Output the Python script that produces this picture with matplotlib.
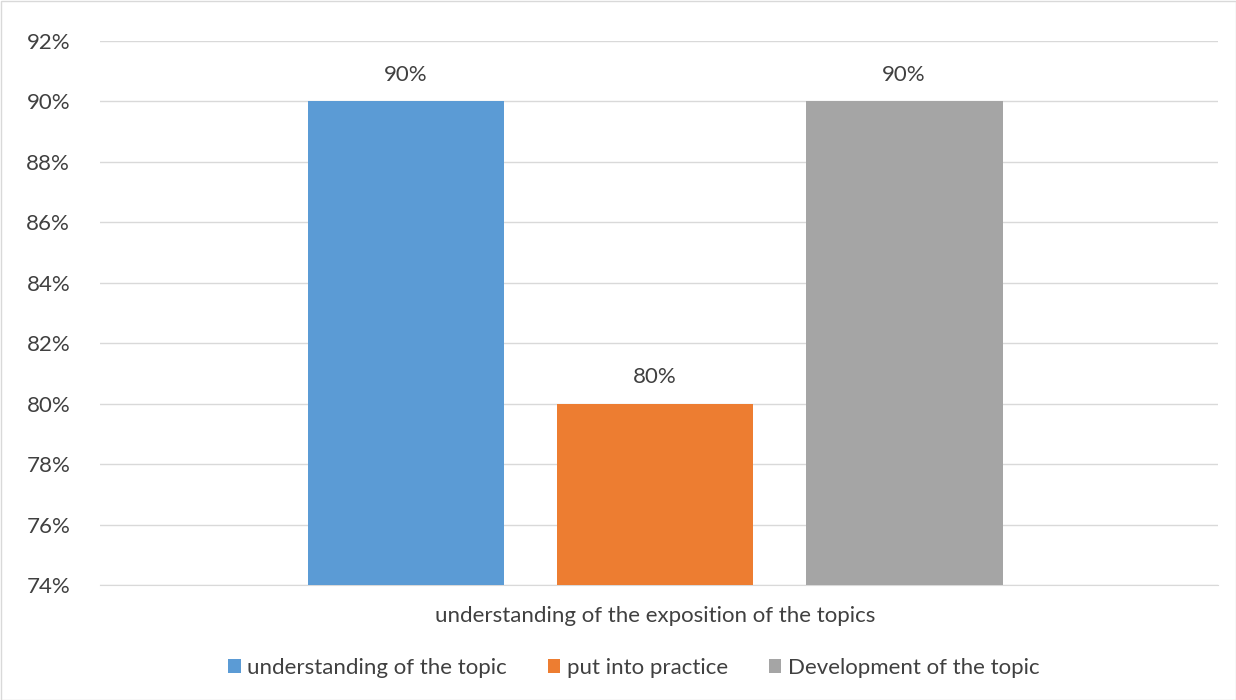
import matplotlib
matplotlib.use('Agg')
import matplotlib.pyplot as plt
from matplotlib.patches import Rectangle

category = 'understanding of the exposition of the topics'
series = ['understanding of the topic', 'put into practice', 'Development of the topic']
values = [0.90, 0.80, 0.90]
colors = ['#5b9bd5', '#ed7d31', '#a5a5a5']
yticks = [0.74, 0.76, 0.78, 0.80, 0.82, 0.84, 0.86, 0.88, 0.90, 0.92]

plt.rcParams['font.family'] = ['Lato', 'DejaVu Sans']
fs = 16
fig = plt.figure(figsize=(12.36, 7), dpi=100)
ax = fig.add_axes([100/1236, 1-585/700, 1118/1236, 544/700])

offsets = [-0.2263, -0.0035, 0.2193]
width = 0.176
for name, v, c, off in zip(series, values, colors, offsets):
    ax.bar(off, v - 0.74, width, bottom=0.74, color=c, label=name, zorder=3)
    ax.text(off, v + 0.0055, '%d%%' % round(v * 100), ha='center', va='bottom',
            fontsize=fs, color='#404040')

ax.set_xlim(-0.5, 0.5)
ax.set_ylim(0.74, 0.92)
ax.set_yticks(yticks)
ax.set_yticklabels(['%d%%' % round(t * 100) for t in yticks], fontsize=fs, color='#404040')
ax.set_xticks([])
ax.yaxis.grid(True, color='#d9d9d9', linewidth=1, zorder=0)
ax.tick_params(axis='y', length=0, pad=21.5)
for s in ['top', 'right', 'left']:
    ax.spines[s].set_visible(False)
ax.spines['bottom'].set_color('#d9d9d9')

fig.text(655/1236, 1-616/700, category, ha='center', va='center', fontsize=fs, color='#404040')
fig.legend(loc='center', bbox_to_anchor=(634/1236, 1-668/700), ncol=3, frameon=False,
           fontsize=fs, handlelength=0.55, handleheight=0.55, handletextpad=0.3,
           columnspacing=1.85, labelcolor='#404040')

fig.patches.append(Rectangle((0.5/1236, 0.5/700), 1-1/1236, 1-1/700, transform=fig.transFigure,
                             fill=False, edgecolor='#d9d9d9', linewidth=1))
fig.savefig('out.png', dpi=100)
